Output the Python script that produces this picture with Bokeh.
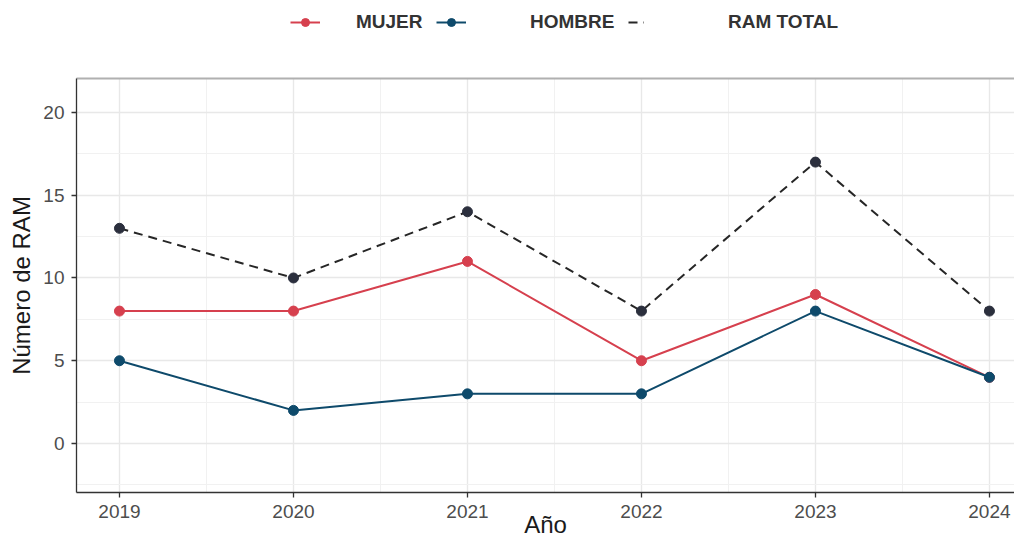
from bokeh.plotting import figure
from bokeh.layouts import column
from bokeh.models import (ColumnDataSource, FixedTicker, Legend, LegendItem,
                          LinearAxis, Range1d)
from bokeh.embed import file_html
from bokeh.resources import INLINE

years = [2019, 2020, 2021, 2022, 2023, 2024]
mujer = [8, 8, 11, 5, 9, 4]
hombre = [5, 2, 3, 3, 8, 4]
total = [13, 10, 14, 8, 17, 8]

series_names = ["MUJER", "HOMBRE", "RAM TOTAL"]
y_ticks = [0, 5, 10, 15, 20]
y_minor = [-2.5, 2.5, 7.5, 12.5, 17.5, 22.5]
x_minor = [2018.5, 2019.5, 2020.5, 2021.5, 2022.5, 2023.5]

RED = "#d6404e"
BLUE = "#0e4a6b"
DARK = "#2b2f3d"
LINE_DARK = "#262626"
FONT = "Liberation Sans"
DASH = "9 6"

src = ColumnDataSource(dict(year=years, mujer=mujer, hombre=hombre, total=total))

# ---------------- main plot ----------------
p = figure(width=1014, height=478, output_backend="svg", toolbar_location=None,
           x_range=Range1d(2018.753, 2024.144), y_range=Range1d(-2.96, 22.05),
           min_border_left=76, min_border_right=0, min_border_top=16,
           min_border_bottom=48)
p.outline_line_color = None
p.background_fill_color = "white"

for g in (p.xgrid, p.ygrid):
    g.grid_line_color = "#e8e8e8"
    g.grid_line_width = 1.4
    g.minor_grid_line_color = "#f1f1f1"
    g.minor_grid_line_width = 1.0

p.xaxis.ticker = FixedTicker(ticks=years, minor_ticks=x_minor)
p.yaxis.ticker = FixedTicker(ticks=y_ticks, minor_ticks=y_minor)

for ax in (p.xaxis, p.yaxis):
    ax.axis_line_color = "#333333"
    ax.axis_line_width = 1.3
    ax.major_tick_line_color = "#333333"
    ax.major_tick_line_width = 1.3
    ax.major_tick_in = 0
    ax.major_tick_out = 5
    ax.minor_tick_line_color = None
    ax.major_label_text_font = FONT
    ax.major_label_text_font_size = "19px"
    ax.major_label_text_color = "#4d4d4d"
    ax.axis_label_text_font = FONT
    ax.axis_label_text_font_size = "24px"
    ax.axis_label_text_font_style = "normal"
    ax.axis_label_text_color = "#1a1a1a"

p.xaxis.axis_label = "Año"
p.yaxis.axis_label = "Número de RAM"
p.xaxis.major_label_standoff = 7
p.xaxis.axis_label_standoff = -10
p.yaxis.major_label_standoff = 7
p.yaxis.axis_label_standoff = 5

top = LinearAxis(ticker=FixedTicker(ticks=[]), axis_line_color="#b0b0b0",
                 axis_line_width=2, major_tick_line_color=None,
                 minor_tick_line_color=None, major_label_text_color=None)
p.add_layout(top, "above")

p.line("year", "mujer", source=src, line_color=RED, line_width=2)
p.scatter("year", "mujer", source=src, size=10, fill_color=RED, line_color=RED)
p.line("year", "total", source=src, line_color=LINE_DARK, line_width=2, line_dash=DASH)
p.scatter("year", "total", source=src, size=10, fill_color=DARK, line_color=DARK)
p.line("year", "hombre", source=src, line_color=BLUE, line_width=2)
p.scatter("year", "hombre", source=src, size=10, fill_color=BLUE, line_color=BLUE)

# ---------------- legend strip ----------------
lf = figure(width=1014, height=62, output_backend="svg", toolbar_location=None,
            x_range=Range1d(0, 1), y_range=Range1d(0, 1),
            x_axis_type=None, y_axis_type=None,
            min_border_left=0, min_border_right=0, min_border_top=0,
            min_border_bottom=0)
lf.outline_line_color = None
lf.grid.visible = False

# same series (lying outside this strip's view) only to style the legend keys
k_ml = lf.line("year", "mujer", source=src, line_color=RED, line_width=2)
k_ms = lf.scatter("year", "mujer", source=src, size=10, fill_color=RED, line_color=RED)
k_hl = lf.line("year", "hombre", source=src, line_color=BLUE, line_width=2)
k_hs = lf.scatter("year", "hombre", source=src, size=10, fill_color=BLUE, line_color=BLUE)
k_tl = lf.line("year", "total", source=src, line_color=LINE_DARK, line_width=2, line_dash=DASH)

def make_legend(label, renderers, x, glyph_w, standoff):
    lg = Legend(items=[LegendItem(label=label, renderers=renderers)],
                location=(x, 29), orientation="horizontal",
                glyph_width=glyph_w, glyph_height=20, label_height=20,
                label_standoff=standoff, padding=0, margin=0, spacing=0,
                border_line_color=None, background_fill_alpha=0,
                label_text_font=FONT, label_text_font_size="19px",
                label_text_font_style="bold", label_text_color="#333333")
    lf.add_layout(lg, "center")

# column aligns this strip's frame with the main frame (left edge at 76 px)
make_legend(series_names[0], [k_ml, k_ms], 214, 30, 36)
make_legend(series_names[1], [k_hl, k_hs], 360, 30, 64)
make_legend(series_names[2], [k_tl], 552, 16, 84)

layout = column(lf, p, spacing=0)
open("out.html", "w").write(file_html(layout, INLINE))
